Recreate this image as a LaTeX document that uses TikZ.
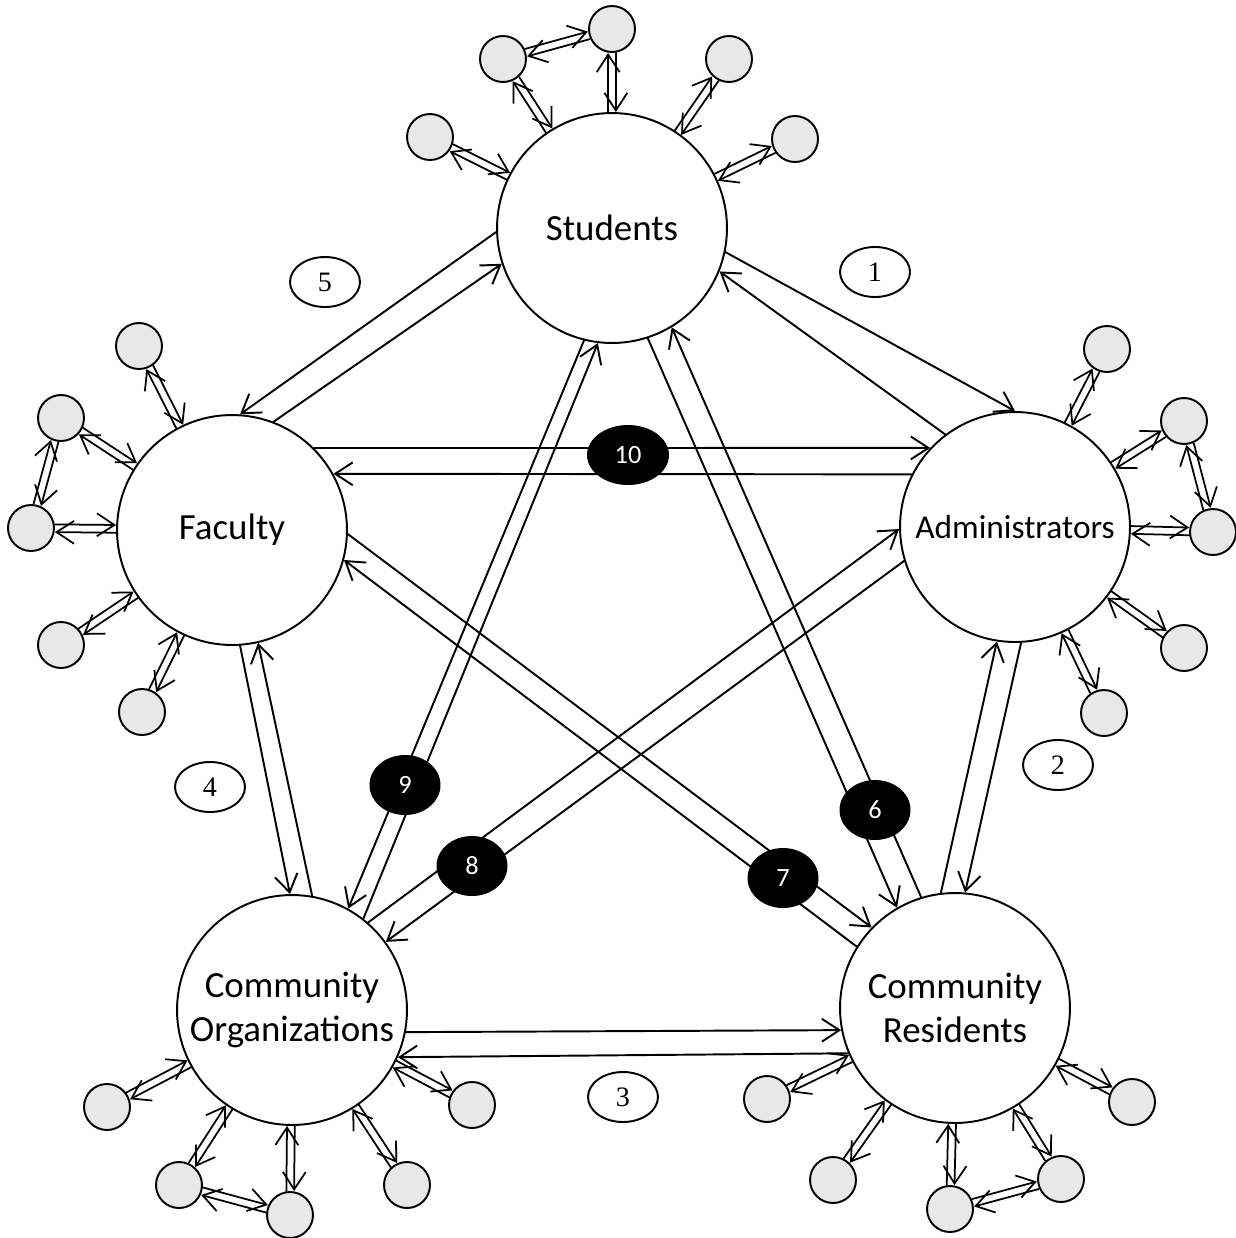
\documentclass[tikz,border=0pt]{standalone}
\usepackage{fontspec}
\setmainfont{Carlito}
\newfontfamily\tagfont{Liberation Serif}
\usetikzlibrary{arrows.meta,calc,shapes.geometric}

\newcommand{\twoway}[2]{%
	\path (#1) -- (#2) coordinate[pos=0] (tw-a) coordinate[pos=1] (tw-b);
	\draw [tie] ($(tw-a)!2.2pt!90:(tw-b)$) -- ($(tw-b)!2.2pt!-90:(tw-a)$);
	\draw [tie] ($(tw-b)!2.2pt!90:(tw-a)$) -- ($(tw-a)!2.2pt!-90:(tw-b)$);
}

\begin{document}
\begin{tikzpicture}[
	x=0.02cm,
	y=-0.02cm,
	line cap=round,
	line join=round,
	>={Straight Barb[length=10pt,width=13pt]},
	every node/.style={align=center},
	group/.style={
		shape=circle,
		minimum size=4.6cm,
		inner sep=0pt,
		line width=1.1pt,
		draw,
		fill=white,
		font=\fontsize{21}{25.5}\selectfont
	},
	member/.style={
		shape=circle,
		minimum size=0.92cm,
		line width=1.1pt,
		draw,
		fill=gray!18
	},
	link/.style={->, line width=1.1pt},
	tie/.style={->, line width=1pt},
	tag/.style={
		shape=ellipse,
		minimum width=1.4cm,
		minimum height=1cm,
		inner sep=0pt,
		line width=1.1pt,
		draw,
		fill=white,
		font=\tagfont\fontsize{16}{18}\selectfont
	},
	hub/.style={
		shape=ellipse,
		minimum width=1.42cm,
		minimum height=1.2cm,
		inner sep=0pt,
		fill=black,
		text=white,
		font=\fontsize{15}{17}\selectfont
	}
	]
	\useasboundingbox (0,0) rectangle (1235,1238);
	% main groups
	\node [group] (students) at (612,228) {Students};
	\node [group] (faculty) at (232,530) {Faculty};
	\node [group, font=\fontsize{19}{23}\selectfont] (admin) at (1015,527) {Administrators};
	\node [group] (orgs) at (292,1010) {Community\\ Organizations};
	\node [group] (residents) at (955,1008) {Community\\ Residents};
	% members of each group
	\foreach \px/\py [count=\i] in {430/137, 503/59, 612/29, 729/59, 795/139}{
		\node [member] (s\i) at (\px,\py) {};
		\twoway{s\i}{students}
	}
	\twoway{s2}{s3}
	\foreach \px/\py [count=\i] in {139/346, 61/418, 31/528, 61/645, 142/712}{
		\node [member] (f\i) at (\px,\py) {};
		\twoway{f\i}{faculty}
	}
	\twoway{f2}{f3}
	\foreach \px/\py [count=\i] in {1107/349, 1184/421, 1213/532, 1184/648, 1104/713}{
		\node [member] (a\i) at (\px,\py) {};
		\twoway{a\i}{admin}
	}
	\twoway{a2}{a3}
	\foreach \px/\py [count=\i] in {107/1107, 179/1185, 290/1215, 407/1185, 472/1105}{
		\node [member] (o\i) at (\px,\py) {};
		\twoway{o\i}{orgs}
	}
	\twoway{o2}{o3}
	\foreach \px/\py [count=\i] in {767/1099, 833/1180, 950/1209, 1061/1179, 1132/1102}{
		\node [member] (r\i) at (\px,\py) {};
		\twoway{r\i}{residents}
	}
	\twoway{r3}{r4}
	% links between groups
	\draw [link] (students.-12) -- (admin.90);
	\draw [link] (admin.127) -- (students.-22);
	\draw [link] (students.182) -- (faculty.86);
	\draw [link] (faculty.69) -- (students.198);
	\draw [link] (students.-104) -- (orgs.61);
	\draw [link] (orgs.52) -- (students.-97);
	\draw [link] (students.-72) -- (residents.120);
	\draw [link] (residents.107) -- (students.-59);
	\draw [link] (faculty.45) -- (admin.137);
	\draw [link] (admin.153) -- (faculty.29);
	\draw [link] (faculty.-86) -- (orgs.91);
	\draw [link] (orgs.80) -- (faculty.-77);
	\draw [link] (faculty.-2) -- (residents.136);
	\draw [link] (residents.148) -- (faculty.-15);
	\draw [link] (orgs.49) -- (admin.181);
	\draw [link] (admin.197) -- (orgs.36);
	\draw [link] (admin.-87) -- (residents.85);
	\draw [link] (residents.97) -- (admin.-99);
	\draw [link] (orgs.-11) -- (residents.191);
	\draw [link] (residents.203) -- (orgs.-24);
	% numbered links
	\node [tag] (t1) at (875,272) {1};
	\node [tag] (t2) at (1058,765) {2};
	\node [tag] (t3) at (623,1097) {3};
	\node [tag] (t4) at (210,787) {4};
	\node [tag] (t5) at (325,282) {5};
	\node [hub] (h6) at (875,810) {6};
	\node [hub] (h7) at (783,878) {7};
	\node [hub] (h8) at (472,866) {8};
	\node [hub] (h9) at (405,785) {9};
	\node [hub, minimum width=1.64cm] (h10) at (628,455) {10};
\end{tikzpicture}
\end{document}
